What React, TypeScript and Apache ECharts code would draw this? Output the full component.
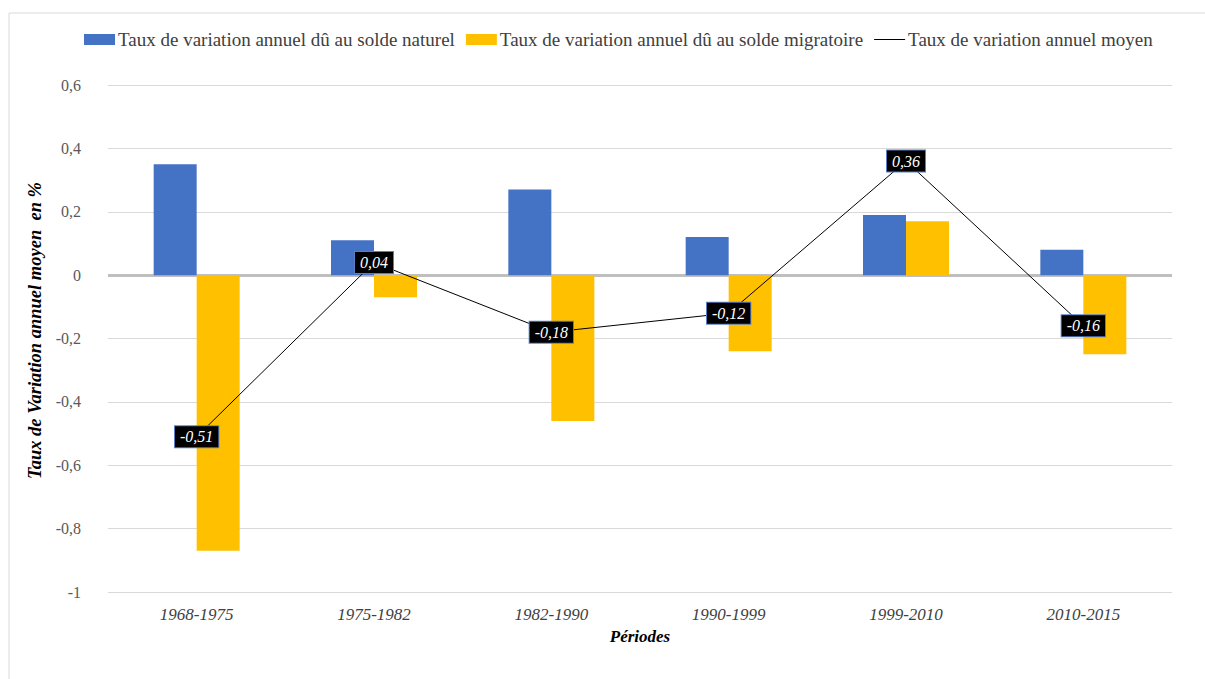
import React, { useEffect, useRef } from "react";
import * as echarts from "echarts";

const categories = ["1968-1975", "1975-1982", "1982-1990", "1990-1999", "1999-2010", "2010-2015"];
const naturel = [0.35, 0.11, 0.27, 0.12, 0.19, 0.08];
const migratoire = [-0.87, -0.07, -0.46, -0.24, 0.17, -0.25];
const moyen = [-0.51, 0.04, -0.18, -0.12, 0.36, -0.16];

const nameNat = "Taux de variation annuel dû au solde naturel";
const nameMig = "Taux de variation annuel dû au solde migratoire";
const nameMoy = "Taux de variation annuel moyen";

const FONT = "Liberation Serif";

const fmt = (v: number) => {
  const r = Math.round(v * 100) / 100;
  return String(r).replace(".", ",");
};

export default function App() {
  const ref = useRef<HTMLDivElement>(null);
  useEffect(() => {
    document.body.style.margin = "0";
    const chart = echarts.init(ref.current!, null, { renderer: "svg" });
    chart.setOption({
      animation: false,
      backgroundColor: "#ffffff",
      textStyle: { fontFamily: FONT },
      graphic: [
        {
          type: "rect",
          shape: { x: 9, y: 13, width: 1300, height: 800 },
          style: { fill: "none", stroke: "#d9d9d9", lineWidth: 1 },
          silent: true,
          z: -10,
        },
      ],
      legend: {
        left: 79,
        top: 25,
        itemWidth: 31,
        itemHeight: 11,
        itemGap: 11,
        textStyle: { fontFamily: FONT, fontSize: 19, color: "#404040", padding: [0, 0, 0, -2] },
        data: [
          { name: nameNat, icon: "rect" },
          { name: nameMig, icon: "rect" },
          { name: nameMoy, icon: "path://M0,0 L30,0 L30,1 L0,1 Z" },
        ],
      },
      grid: { left: 108, right: 33, top: 85, bottom: 87 },
      xAxis: {
        type: "category",
        data: categories,
        axisLine: { show: false },
        axisTick: { show: false },
        axisLabel: { fontFamily: FONT, fontSize: 17, fontStyle: "italic", color: "#404040", margin: 14 },
        name: "Périodes",
        nameLocation: "middle",
        nameGap: 36,
        nameTextStyle: { fontFamily: FONT, fontSize: 17, fontStyle: "italic", fontWeight: "bold", color: "#000" },
      },
      yAxis: {
        type: "value",
        min: -1,
        max: 0.6,
        interval: 0.2,
        axisLine: { show: false },
        axisTick: { show: false },
        splitLine: { lineStyle: { color: "#d9d9d9", width: 1 } },
        axisLabel: {
          fontFamily: FONT,
          fontSize: 16,
          color: "#595959",
          margin: 27,
          formatter: (v: number) => String(Math.round(v * 10) / 10).replace(".", ","),
        },
        name: "Taux de Variation annuel moyen  en %",
        nameLocation: "middle",
        nameGap: 48,
        nameTextStyle: {
          fontFamily: FONT,
          fontSize: 18.5,
          fontStyle: "italic",
          fontWeight: "bold",
          color: "#000",
          padding: [0, 0, 0, 16],
        },
      },
      series: [
        {
          name: nameNat,
          type: "bar",
          data: naturel,
          barWidth: 43,
          barGap: "0%",
          itemStyle: { color: "#4472c4" },
          markLine: {
            silent: true,
            symbol: "none",
            label: { show: false },
            lineStyle: { color: "#bfbfbf", width: 3, type: "solid" },
            data: [{ yAxis: 0 }],
            z: 1,
          },
        },
        {
          name: nameMig,
          type: "bar",
          data: migratoire,
          barWidth: 43,
          barGap: "0%",
          itemStyle: { color: "#ffc000" },
        },
        {
          name: nameMoy,
          type: "line",
          data: moyen,
          symbol: "circle",
          symbolSize: 1,
          z: 5,
          itemStyle: { color: "#000" },
          lineStyle: { color: "#000", width: 1 },
          label: {
            show: true,
            position: "inside",
            formatter: (p: any) => fmt(p.value),
            color: "#ffffff",
            fontFamily: FONT,
            fontStyle: "italic",
            fontSize: 16,
            backgroundColor: "#000000",
            borderColor: "#5b7fc4",
            borderWidth: 1,
            padding: [3, 5, 2, 5],
          },
        },
      ],
    });
    return () => chart.dispose();
  }, []);
  return <div ref={ref} style={{ width: 1205, height: 679 }} />;
}
